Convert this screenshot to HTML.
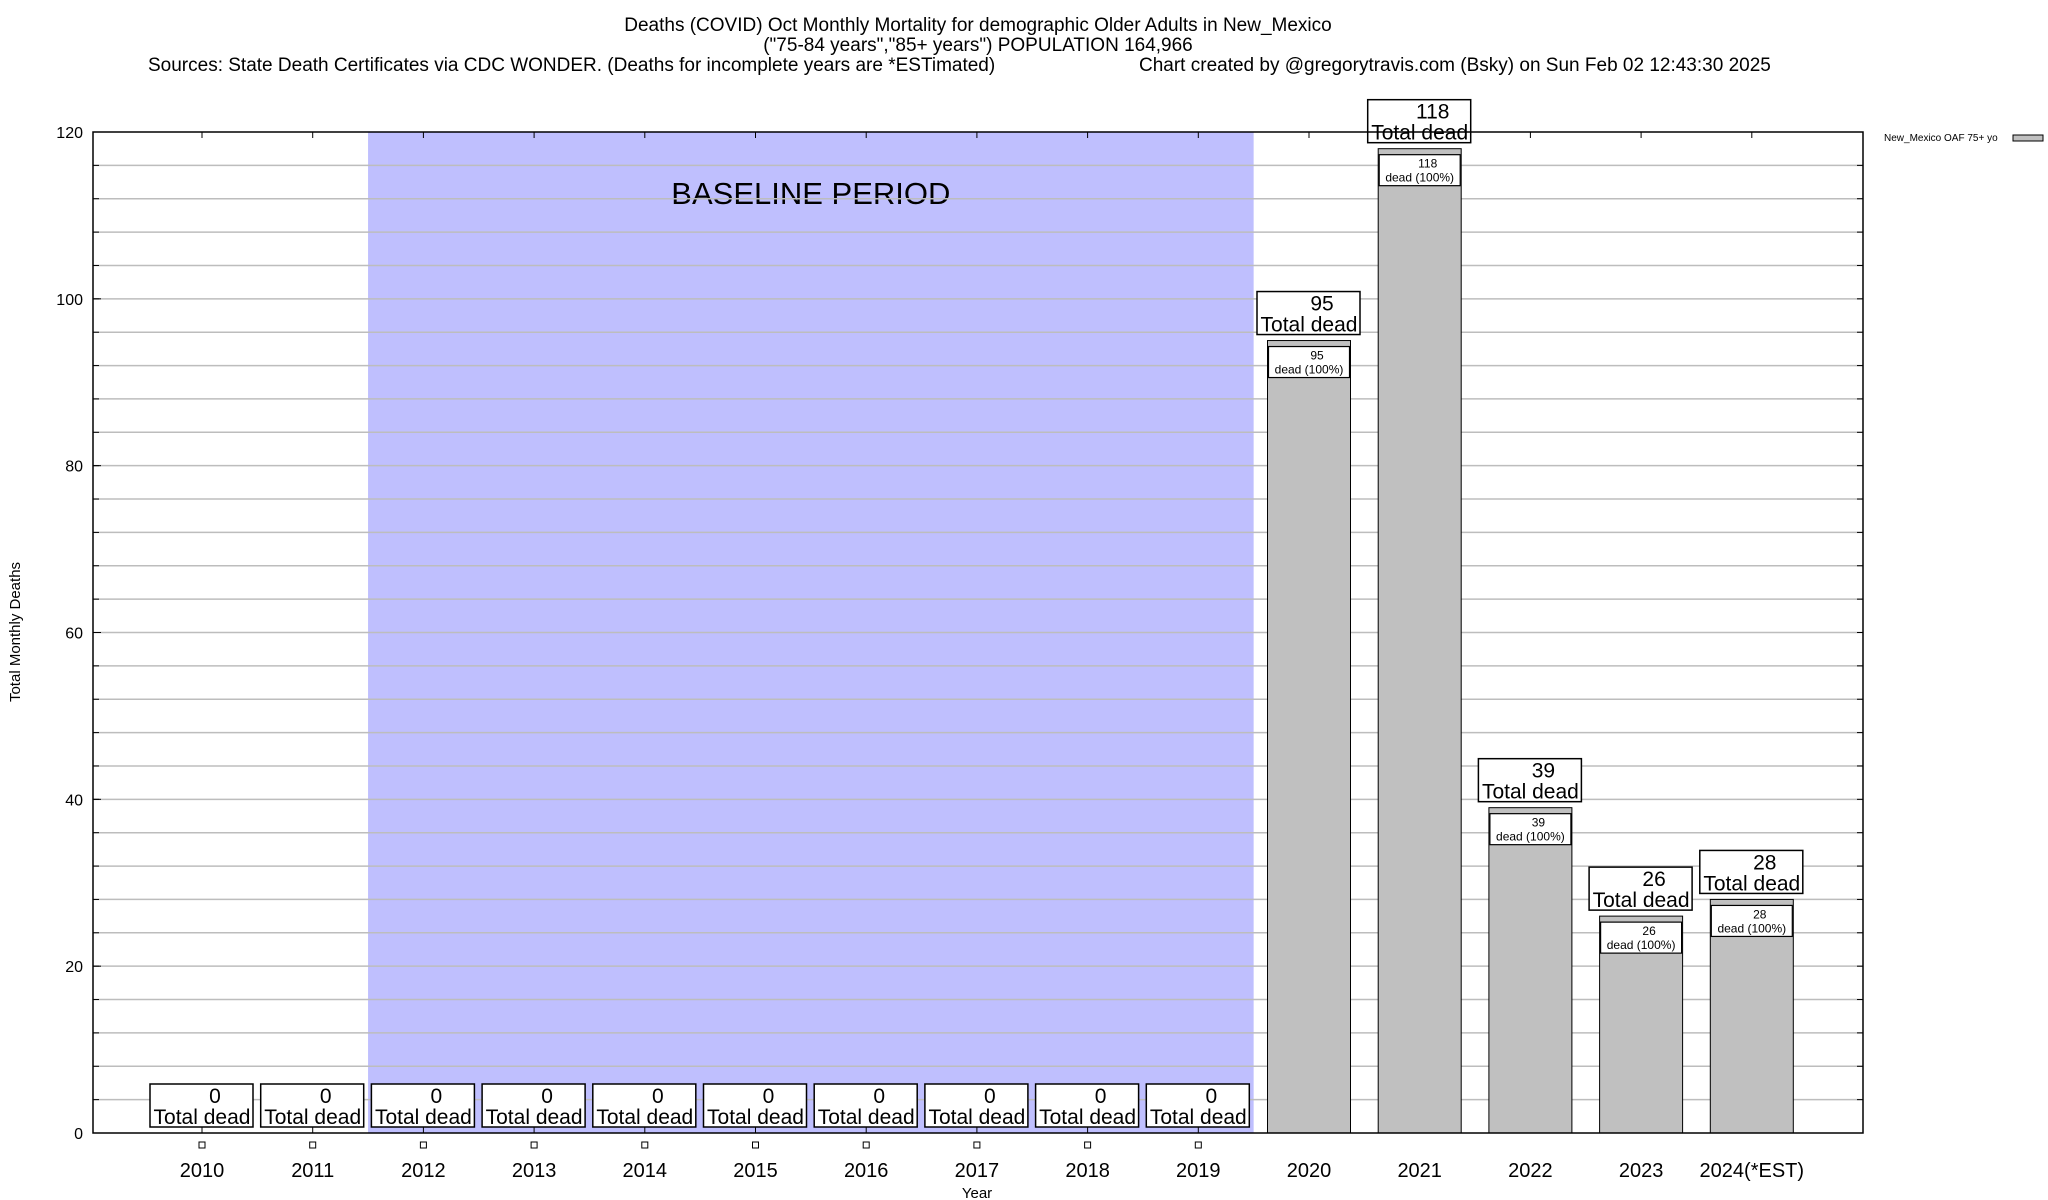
<!DOCTYPE html>
<html><head><meta charset="utf-8"><style>
html,body{margin:0;padding:0;background:#fff;}
svg{display:block;font-family:"Liberation Sans",Arial,sans-serif;}
</style></head><body>
<svg id="chart" width="2048" height="1200" viewBox="0 0 2048 1200" xmlns="http://www.w3.org/2000/svg">
<rect x="0" y="0" width="2048" height="1200" fill="#fff"/>
<g font-size="19" fill="#000">
<text x="978" y="31" text-anchor="middle">Deaths (COVID) Oct Monthly Mortality for demographic Older Adults in New_Mexico</text>
<text x="978" y="51" text-anchor="middle">("75-84 years","85+ years") POPULATION 164,966</text>
<text x="148" y="71">Sources: State Death Certificates via CDC WONDER. (Deaths for incomplete years are *ESTimated)</text>
<text x="1139" y="71">Chart created by @gregorytravis.com (Bsky) on Sun Feb 02 12:43:30 2025</text>
</g>
<g id="plot"></g>
<text x="20" y="632" font-size="15" text-anchor="middle" transform="rotate(-90 20 632)">Total Monthly Deaths</text>
<text x="977" y="1198" font-size="15" text-anchor="middle">Year</text>
<g>
<text x="1884" y="141" font-size="10">New_Mexico OAF 75+ yo</text>
<rect x="2013" y="135" width="30" height="6" fill="#c0c0c0" stroke="#000" stroke-width="1"/>
</g>
</svg>
<script>
const categories = ["2010","2011","2012","2013","2014","2015","2016","2017","2018","2019","2020","2021","2022","2023","2024(*EST)"];
const deaths = [0,0,0,0,0,0,0,0,0,0,95,118,39,26,28];
const yTicks = [0,20,40,60,80,100,120];
const baselineStart = "2012";
const baselineEnd = "2019";

const NS = "http://www.w3.org/2000/svg";
const L = 93, R = 1863, T = 132, B = 1133;
const yMax = 120;
const x0 = 202, step = 110.7, barW = 83;
function xScale(i){ return x0 + i*step; }
function yScale(v){ return B - v/yMax*(B-T); }
const plot = document.getElementById('plot');
function mk(tag, attrs, parent){
  const e = document.createElementNS(NS, tag);
  for (const k in attrs) e.setAttribute(k, attrs[k]);
  (parent||plot).appendChild(e);
  return e;
}
// background
mk('rect',{x:L,y:T,width:R-L,height:B-T,fill:'#fff'});
// baseline band
const bs = categories.indexOf(baselineStart), be = categories.indexOf(baselineEnd);
const band = mk('rect',{x:xScale(bs)-step/2,y:T,width:(be-bs+1)*step,height:B-T,fill:'#bfbffe'});


const bt = mk('text',{x:(xScale(bs)-step/2+xScale(be)+step/2)/2,y:204,'font-size':31,'text-anchor':'middle'});
bt.textContent = 'BASELINE PERIOD';


// grid lines every 4
for (let v=4; v<yMax; v+=4){
  const y = yScale(v);
  const g = mk('line',{x1:L,x2:R,y1:y,y2:y,stroke:'#bdbdbd','stroke-width':1.5});
  
  
  mk('line',{x1:L,x2:L+6,y1:y,y2:y,stroke:'#000','stroke-width':1});
  mk('line',{x1:R-6,x2:R,y1:y,y2:y,stroke:'#000','stroke-width':1});
}
// y tick labels
yTicks.forEach(v=>{
  const y = yScale(v);
  mk('line',{x1:L,x2:L+8,y1:y,y2:y,stroke:'#000','stroke-width':1});
  const t = mk('text',{x:83,y:y+6,'font-size':16,'text-anchor':'end'});
  t.textContent = v;
  
  
});
// bars
categories.forEach((c,i)=>{
  const cx = xScale(i), v = deaths[i];
  mk('line',{x1:cx,x2:cx,y1:T,y2:T+6,stroke:'#000','stroke-width':1});
  mk('line',{x1:cx,x2:cx,y1:B-6,y2:B,stroke:'#000','stroke-width':1});
  if (v>0){
    const yt = yScale(v);
    const bar = mk('rect',{x:cx-barW/2,y:yt,width:barW,height:B-yt,fill:'#c0c0c0',stroke:'#000','stroke-width':1});
    
    
    const ib = mk('rect',{x:cx-barW/2+1,y:yt+6,width:barW-2,height:31,fill:'#fff',stroke:'#000','stroke-width':1.2});
    
    
    const t1 = mk('text',{x:cx+8,y:yt+19,'font-size':12,'text-anchor':'middle'}); t1.textContent = v;
    
    
    const t2 = mk('text',{x:cx,y:yt+33,'font-size':12,'text-anchor':'middle'}); t2.textContent = 'dead (100%)';
    
    
  }
  // total label box
  const by = yScale(v) - 6;
  const box = mk('rect',{x:cx-52,y:by-43,width:103,height:43,fill:'#fff',stroke:'#000','stroke-width':1.5});
  
  
  const tv = mk('text',{x:cx+13,y:by-24,'font-size':21,'text-anchor':'middle'}); tv.textContent = v;
  
  
  const td = mk('text',{x:cx,y:by-3,'font-size':21,'text-anchor':'middle'}); td.textContent = 'Total dead';
  
  
  if (v===0){
    const sq = mk('rect',{x:cx-3,y:1142,width:6,height:6,fill:'#fff',stroke:'#000','stroke-width':1});
    
    
  }
  const xl = mk('text',{x:cx,y:1177,'font-size':20,'text-anchor':'middle'}); xl.textContent = c;
  
  
});
// axes frame
const fr = mk('rect',{x:L,y:T,width:R-L,height:B-T,fill:'none',stroke:'#000','stroke-width':1.5});


</script>
</body></html>
